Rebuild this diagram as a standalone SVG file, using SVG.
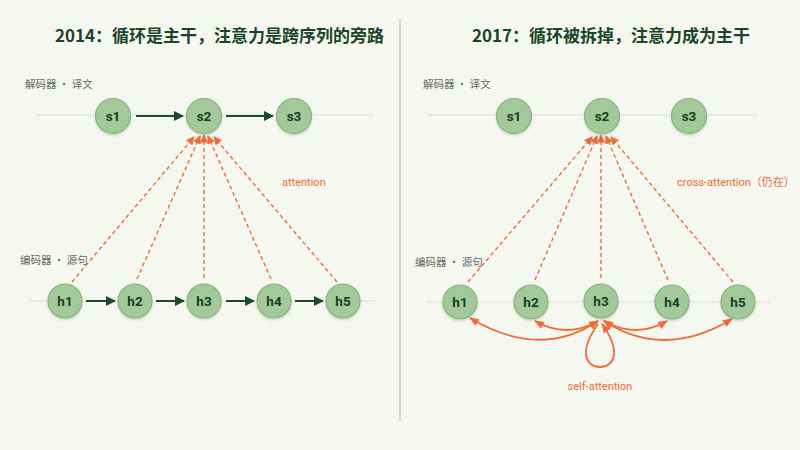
<svg xmlns="http://www.w3.org/2000/svg" width="800" height="450" viewBox="0 0 800 450">
<defs>
<style>
.title{font-family:"Noto Sans CJK SC","Noto Sans",sans-serif;font-weight:700;font-size:17px;fill:#1a4529}
.lab{font-family:"Noto Sans CJK SC","Noto Sans",sans-serif;font-size:10.5px;fill:#666}
.node circle{fill:#a3c99a;stroke:#86b57c;stroke-width:1.2;filter:url(#sh)}
.node text{font-family:"Roboto","Noto Sans",sans-serif;font-weight:700;font-size:13.5px;fill:#163d24;text-anchor:middle}
.base{stroke:#dcdfd6;stroke-width:1}
.seq{stroke:#1d4a2e;stroke-width:2;fill:none;marker-end:url(#ag)}
.att{stroke:#f26a35;stroke-width:1.4;stroke-dasharray:4 3;fill:none;marker-end:url(#ao)}
.self{stroke:#f26a35;stroke-width:1.8;fill:none;marker-end:url(#ao2);marker-start:url(#ao2)}
.olab{font-family:"Roboto","Noto Sans","Noto Sans CJK SC",sans-serif;font-size:11px;fill:#f26a35}
</style>
<marker id="ag" viewBox="0 0 10 10" refX="9" refY="5" markerWidth="5" markerHeight="5" orient="auto" markerUnits="strokeWidth"><path d="M0,0 L10,5 L0,10 z" fill="#1d4a2e"/></marker>
<marker id="ao" viewBox="0 0 10 10" refX="9" refY="5" markerWidth="6" markerHeight="6" orient="auto" markerUnits="strokeWidth"><path d="M0,0 L10,5 L0,10 z" fill="#f26a35"/></marker>
<marker id="ao2" viewBox="0 0 10 10" refX="9" refY="5" markerWidth="5.5" markerHeight="5.5" orient="auto-start-reverse" markerUnits="strokeWidth"><path d="M0,1 L10,5 L0,9 z" fill="#f26a35"/></marker>
<filter id="sh" x="-30%" y="-30%" width="160%" height="170%"><feDropShadow dx="0" dy="1.5" stdDeviation="1.2" flood-color="#000" flood-opacity="0.15"/></filter>
</defs>
<rect width="800" height="450" fill="#f4f8f0"/>
<line x1="400" y1="19" x2="400" y2="421" stroke="#c9cbc6" stroke-width="1.5"/>

<text class="title" x="55" y="42">2014：循环是主干，注意力是跨序列的旁路</text>
<text class="title" x="472" y="42">2017：循环被拆掉，注意力成为主干</text>

<text class="lab" x="25" y="88">解码器 · 译文</text>
<text class="lab" x="20" y="264">编码器 · 源句</text>
<text class="lab" x="423" y="88">解码器 · 译文</text>
<text class="lab" x="415" y="266">编码器 · 源句</text>

<g id="baselines">
<line class="base" x1="36" y1="115" x2="374" y2="115"/>
<line class="base" x1="30" y1="301" x2="375" y2="301"/>
<line class="base" x1="427" y1="115" x2="758" y2="115"/>
<line class="base" x1="426" y1="302" x2="770" y2="302"/>
</g>

<g id="connectors">
<line class="seq" x1="136" y1="116" x2="183" y2="116"/>
<line class="seq" x1="226" y1="116" x2="273" y2="116"/>
<line class="seq" x1="86" y1="301" x2="115" y2="301"/>
<line class="seq" x1="156" y1="301" x2="184" y2="301"/>
<line class="seq" x1="226" y1="301" x2="254" y2="301"/>
<line class="seq" x1="295" y1="301" x2="323" y2="301"/>

<line class="att" x1="72" y1="282" x2="194" y2="137"/>
<line class="att" x1="137" y1="279" x2="200" y2="136"/>
<line class="att" x1="204" y1="278" x2="204" y2="135"/>
<line class="att" x1="271" y1="279" x2="208" y2="136"/>
<line class="att" x1="337" y1="282" x2="214" y2="137"/>

<line class="att" x1="468" y1="282" x2="592" y2="137"/>
<line class="att" x1="535" y1="280" x2="597" y2="136"/>
<line class="att" x1="601" y1="278" x2="601" y2="135"/>
<line class="att" x1="668" y1="280" x2="606" y2="136"/>
<line class="att" x1="733" y1="282" x2="611" y2="137"/>

<path class="self" d="M598,321 Q540,360 470,318"/>
<path class="self" d="M598,321 Q567,339 535,321"/>
<path class="self" d="M604,321 Q636,339 667,321"/>
<path class="self" d="M604,321 Q664,360 732,319"/>
<path class="self" style="marker-start:none" d="M598,324 C578,352 586,367 600,367 C614,367 622,352 602,324"/>
</g>

<text class="olab" x="282" y="186">attention</text>
<text class="olab" x="677" y="186">cross-attention（仍在）</text>
<text class="olab" x="600" y="390" text-anchor="middle">self-attention</text>

<g id="s1" class="node"><circle cx="113" cy="116" r="17.5"/><text x="113" y="120.5">s1</text></g>
<g id="s2" class="node"><circle cx="204" cy="116" r="17.5"/><text x="204" y="120.5">s2</text></g>
<g id="s3" class="node"><circle cx="294" cy="116" r="17.5"/><text x="294" y="120.5">s3</text></g>
<g id="h1" class="node"><circle cx="65" cy="301" r="17"/><text x="65" y="305.5">h1</text></g>
<g id="h2" class="node"><circle cx="135" cy="301" r="17"/><text x="135" y="305.5">h2</text></g>
<g id="h3" class="node"><circle cx="204" cy="301" r="17"/><text x="204" y="305.5">h3</text></g>
<g id="h4" class="node"><circle cx="274" cy="301" r="17"/><text x="274" y="305.5">h4</text></g>
<g id="h5" class="node"><circle cx="343" cy="301" r="17"/><text x="343" y="305.5">h5</text></g>

<g id="r_s1" class="node"><circle cx="514" cy="116" r="17.5"/><text x="514" y="120.5">s1</text></g>
<g id="r_s2" class="node"><circle cx="602" cy="116" r="17.5"/><text x="602" y="120.5">s2</text></g>
<g id="r_s3" class="node"><circle cx="689" cy="116" r="17.5"/><text x="689" y="120.5">s3</text></g>
<g id="r_h1" class="node"><circle cx="460" cy="302" r="17"/><text x="460" y="306.5">h1</text></g>
<g id="r_h2" class="node"><circle cx="531" cy="302" r="17"/><text x="531" y="306.5">h2</text></g>
<g id="r_h3" class="node"><circle cx="601" cy="301" r="17"/><text x="601" y="305.5">h3</text></g>
<g id="r_h4" class="node"><circle cx="672" cy="302" r="17"/><text x="672" y="306.5">h4</text></g>
<g id="r_h5" class="node"><circle cx="738" cy="302" r="17"/><text x="738" y="306.5">h5</text></g>
</svg>
